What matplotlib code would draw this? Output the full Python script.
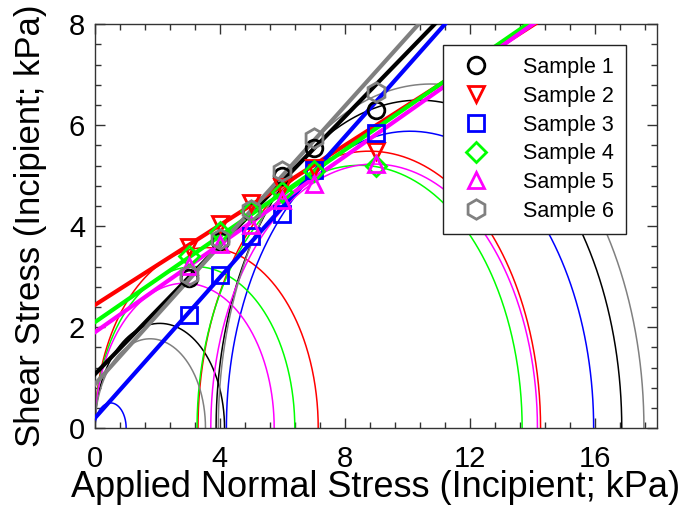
import numpy as np
import matplotlib
matplotlib.use("Agg")
import matplotlib.pyplot as plt
from matplotlib.ticker import MultipleLocator

plt.rcParams['font.family'] = ['Liberation Sans', 'DejaVu Sans']

# applied normal stress of the shear tests (kPa)
normal_stress = [3, 4, 5, 6, 7, 9]

# incipient shear stress per sample (kPa)
shear_s1 = [2.97, 3.70, 4.30, 5.00, 5.55, 6.30]
shear_s2 = [3.58, 4.05, 4.45, 4.78, 5.15, 5.49]
shear_s3 = [2.25, 3.03, 3.80, 4.25, 5.11, 5.84]
shear_s4 = [3.40, 3.88, 4.30, 4.68, 5.10, 5.20]
shear_s5 = [3.22, 3.64, 4.02, 4.51, 4.83, 5.24]
shear_s6 = [3.03, 3.74, 4.32, 5.09, 5.74, 6.66]

labels = ['Sample 1', 'Sample 2', 'Sample 3', 'Sample 4', 'Sample 5', 'Sample 6']

# failure envelopes: tau = cohesion + slope * sigma
cohesion = [1.07, 2.44, 0.20, 2.10, 1.90, 0.87]
slope = [0.637, 0.395, 0.696, 0.426, 0.435, 0.688]

# Mohr circles: small (sigma3 = 0) and large, given by (sigma3, sigma1)
small_sigma1 = [4.15, 7.15, 1.00, 6.40, 5.74, 3.54]
large_sigma3 = [3.88, 3.30, 4.21, 3.27, 3.71, 3.95]
large_sigma1 = [16.87, 14.27, 15.97, 13.68, 14.17, 17.58]

colors = ['black', '#ff0000', '#0000ff', '#00ff00', '#ff00ff', '#808080']
markers = ['o', 'v', 's', 'D', '^', 'h']
marker_sizes = [12, 12, 11, 10, 12, 14]

shear = [shear_s1, shear_s2, shear_s3, shear_s4, shear_s5, shear_s6]

fig = plt.figure(figsize=(6.83, 5.14), dpi=100)
ax = fig.add_axes([0.139, 0.167, 0.823, 0.786])

theta = np.linspace(0, np.pi, 400)

# thin Mohr circles
for i in range(6):
    for s3, s1 in [(0.0, small_sigma1[i]), (large_sigma3[i], large_sigma1[i])]:
        c = (s1 + s3) / 2
        r = (s1 - s3) / 2
        ax.plot(c + r * np.cos(theta), r * np.sin(theta), color=colors[i], lw=1.1, zorder=2)

# thick envelopes
xs = np.array([0, 18])
for i in range(6):
    ax.plot(xs, cohesion[i] + slope[i] * xs, color=colors[i], lw=3, zorder=3)

# measured points
for i in range(6):
    ax.plot(normal_stress, shear[i], ls='none', marker=markers[i], ms=marker_sizes[i],
            mfc='none', mec=colors[i], mew=2, label=labels[i], zorder=4)

ax.set_xlim(0, 18)
ax.set_ylim(0, 8)
ax.xaxis.set_major_locator(MultipleLocator(4))
ax.xaxis.set_minor_locator(MultipleLocator(0.8))
ax.yaxis.set_major_locator(MultipleLocator(2))
ax.yaxis.set_minor_locator(MultipleLocator(0.4))
ax.tick_params(which='both', direction='in', top=True, right=True, color='#333333', width=1)
ax.tick_params(which='major', length=7, labelsize=21)
ax.tick_params(axis='x', which='major', pad=12)
ax.tick_params(axis='y', which='major', pad=7)
ax.tick_params(which='minor', length=4)
for sp in ax.spines.values():
    sp.set_color('#333333')
    sp.set_linewidth(1)

ax.set_xlabel('Applied Normal Stress (Incipient; kPa)', fontsize=26, labelpad=-2)
ax.set_ylabel('Shear Stress (Incipient; kPa)', fontsize=25, labelpad=16)

leg = ax.legend(loc='upper right', bbox_to_anchor=(0.945, 0.948), fontsize=15.5,
                frameon=True, fancybox=False, edgecolor='#222222', borderaxespad=0,
                labelspacing=0.36, handletextpad=1.2, borderpad=0.55)
leg.get_frame().set_linewidth(1)
leg.get_frame().set_alpha(1)

fig.savefig('out.png', dpi=100)
